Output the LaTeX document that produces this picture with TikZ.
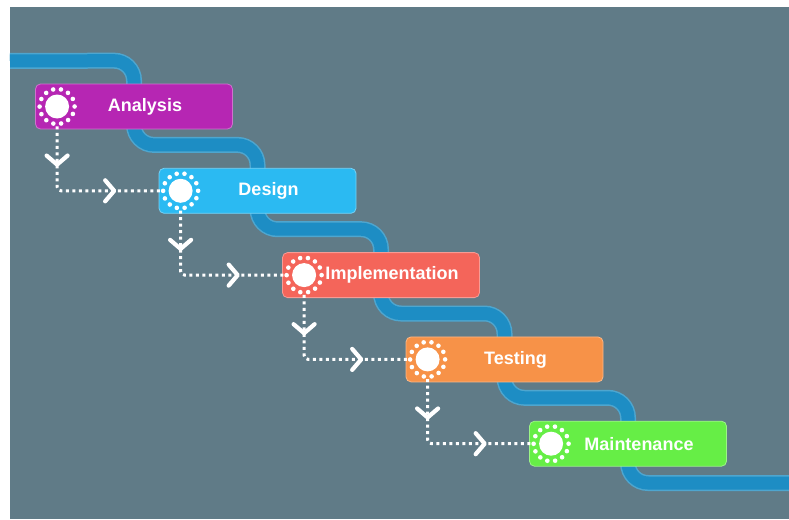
\documentclass[tikz,border=0pt]{standalone}
\usepackage{fontspec}
\setmainfont{Liberation Sans}
\usetikzlibrary{positioning,calc,decorations.markings}

\definecolor{slate}{RGB}{96,123,135}
\definecolor{pipeblue}{RGB}{29,141,196}
\definecolor{pipeedge}{RGB}{78,166,207}
\definecolor{analysiscol}{RGB}{182,38,179}
\definecolor{designcol}{RGB}{43,186,242}
\definecolor{implcol}{RGB}{244,101,90}
\definecolor{testcol}{RGB}{247,146,72}
\definecolor{maintcol}{RGB}{102,238,70}

\pgfdeclarelayer{back}
\pgfdeclarelayer{pipes}
\pgfsetlayers{back,pipes,main}

\newcommand{\flowtip}{\draw[solid,sharp corners,line width=4.2pt,line cap=round,line join=round]
  (-9pt,-10.5pt) -- (0pt,0pt) -- (-9pt,10.5pt);}

\begin{document}
\begin{tikzpicture}[x=1pt,y=-1pt,font=\fontsize{18}{20}\selectfont\bfseries,
  stage/.style={fill=#1,draw=#1!65!white,line width=0.8pt,rounded corners=5pt,
                minimum width=197pt,minimum height=45pt,text=white,
                execute at begin node=\hspace*{22pt}},
  hub/.style={circle,minimum size=35pt,draw=white,line width=4.6pt,line cap=round,
              dash pattern=on 0pt off 7.854pt,
              path picture={\fill[white] (path picture bounding box.center) circle (12pt);}},
  flow/.style={draw=white,line width=3pt,dash pattern=on 3pt off 3.5pt,rounded corners=4pt,
               postaction={decorate,decoration={markings,
                 mark=at position 0.23 with {\flowtip},
                 mark=at position 0.72 with {\flowtip}}}},
  pipe/.style={draw=pipeblue,line width=13pt,rounded corners=20pt,
               preaction={draw=pipeedge,line width=16pt}}]
\useasboundingbox (0,0) rectangle (789,519);
\begin{pgfonlayer}{back}
\fill[slate] (10,7) rectangle (789,519);
\end{pgfonlayer}

%% Stages
\node (Analysis) [stage=analysiscol] at (134,106.5) {Analysis};
\node (Design) [stage=designcol,below=38.5pt of Analysis,xshift=123.5pt] {Design};
\node (Implementation) [stage=implcol,below=38.5pt of Design,xshift=123.5pt] {Implementation};
\node (Testing) [stage=testcol,below=38.5pt of Implementation,xshift=123.5pt] {Testing};
\node (Maintenance) [stage=maintcol,below=38.5pt of Testing,xshift=123.5pt] {Maintenance};

%% Hubs
\node (AnalysisHub) [hub] at ([xshift=22pt]Analysis.west) {};
\node (DesignHub) [hub] at ([xshift=22pt]Design.west) {};
\node (ImplementationHub) [hub] at ([xshift=22pt]Implementation.west) {};
\node (TestingHub) [hub] at ([xshift=22pt]Testing.west) {};
\node (MaintenanceHub) [hub] at ([xshift=22pt]Maintenance.west) {};

%% Dotted hand-overs
\draw[flow] (AnalysisHub) |- (DesignHub);
\draw[flow] (DesignHub) |- (ImplementationHub);
\draw[flow] (ImplementationHub) |- (TestingHub);
\draw[flow] (TestingHub) |- (MaintenanceHub);

%% Waterfall pipe behind the stages
\coordinate (pipeIn) at (10,61);
\coordinate (pipeOut) at (789,483);
\begin{pgfonlayer}{pipes}
\draw[pipe] (pipeIn) -- ([yshift=23pt]Analysis.north) |- ([yshift=23pt]Design.north)
            |- ([yshift=23pt]Implementation.north) |- ([yshift=23pt]Testing.north)
            |- ([yshift=23pt]Maintenance.north) |- (pipeOut);
\end{pgfonlayer}
\end{tikzpicture}
\end{document}
